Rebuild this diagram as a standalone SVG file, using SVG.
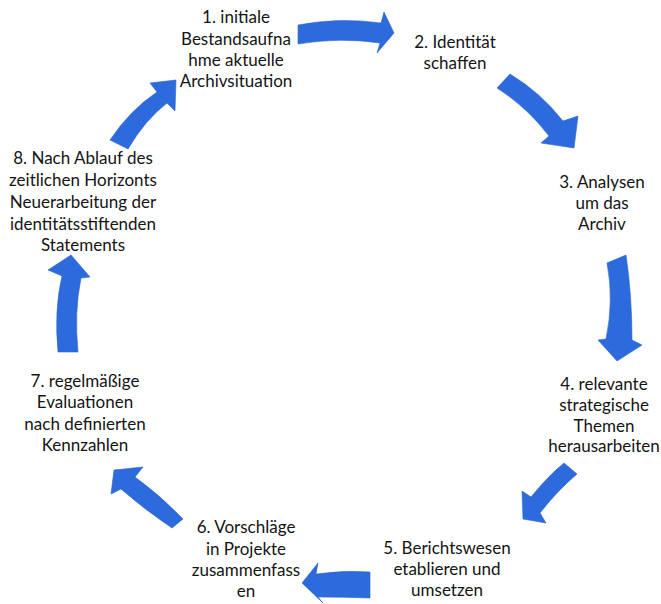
<svg xmlns="http://www.w3.org/2000/svg" width="661" height="604" viewBox="0 0 661 604">
<style>
text{font-family:Lato,"Open Sans","Liberation Sans",sans-serif;font-size:17px;fill:#141414;text-anchor:middle}
.arr{fill:#2d6bdc;stroke:#2864d0;stroke-width:0.6;stroke-linejoin:miter}
</style>
<rect width="661" height="604" fill="#ffffff"/>
<g id="connectors">
<path class="arr" d="M298,25 Q340,17 381,23 L384,12 L394,33 L377,53 L380,43 Q340,37 298,44 Z"/>
<path class="arr" d="M510,74 Q540,92 563,121 L578,116 L574,148 L541,143 L549,136 Q527,107 497,88 Z"/>
<path class="arr" d="M607,263 Q614,300 606,339 L598,340 L617,361 L642,345 L632,340 Q632,295 626,255 Z"/>
<path class="arr" d="M564,463 Q548,476 531,497 L522,491 L523,519 L546,523 L540,513 Q557,491 577,474 Z"/>
<path class="arr" d="M370,572 Q343,570 316,574 L318,563 L302,583 L323,603 L318,597 Q344,597 370,598 Z"/>
<path class="arr" d="M183,519 Q160,495 135,477 L143,467 L114,470 L111,494 L121,489 Q145,510 172,528 Z"/>
<path class="arr" d="M58,352 Q54,310 62,276 L48,270 L71,255 L90,277 L81,278 Q74,312 78,352 Z"/>
<path class="arr" d="M110,140 Q130,110 157,92 L150,83 L176,80 L175,111 L167,103 Q145,120 128,149 Z"/>
</g>
<g id="node1">
<text x="236" y="23">1. initiale</text>
<text x="236" y="45">Bestandsaufna</text>
<text x="236" y="66">hme aktuelle</text>
<text x="236" y="87">Archivsituation</text>
</g>
<g id="node2">
<text x="455" y="48">2. Identität</text>
<text x="455" y="69">schaffen</text>
</g>
<g id="node3">
<text x="602" y="188">3. Analysen</text>
<text x="602" y="209">um das</text>
<text x="602" y="230">Archiv</text>
</g>
<g id="node4">
<text x="604" y="390">4. relevante</text>
<text x="604" y="411">strategische</text>
<text x="604" y="432">Themen</text>
<text x="604" y="452">herausarbeiten</text>
</g>
<g id="node5">
<text x="447" y="554">5. Berichtswesen</text>
<text x="447" y="575">etablieren und</text>
<text x="447" y="596">umsetzen</text>
</g>
<g id="node6">
<text x="246" y="533">6. Vorschläge</text>
<text x="246" y="555">in Projekte</text>
<text x="246" y="576">zusammenfass</text>
<text x="246" y="597">en</text>
</g>
<g id="node7">
<text x="85" y="387">7. regelmäßige</text>
<text x="85" y="408">Evaluationen</text>
<text x="85" y="430">nach definierten</text>
<text x="85" y="451">Kennzahlen</text>
</g>
<g id="node8">
<text x="83" y="164">8. Nach Ablauf des</text>
<text x="83" y="186">zeitlichen Horizonts</text>
<text x="83" y="208">Neuerarbeitung der</text>
<text x="83" y="230">identitätsstiftenden</text>
<text x="83" y="251">Statements</text>
</g>
</svg>
